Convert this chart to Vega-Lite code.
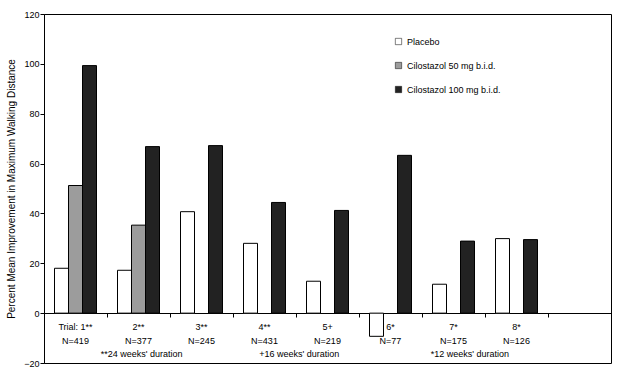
{
  "$schema": "https://vega.github.io/schema/vega-lite/v6.json",
  "width": 567,
  "height": 349,
  "autosize": "none",
  "padding": {"left": 44, "top": 14, "right": 14, "bottom": 14},
  "background": "white",
  "datasets": {
    "bars": [
      {"trial": "1", "treatment": "Placebo", "value": 18},
      {"trial": "1", "treatment": "Cilostazol 50 mg b.i.d.", "value": 51.2},
      {"trial": "1", "treatment": "Cilostazol 100 mg b.i.d.", "value": 99.3},
      {"trial": "2", "treatment": "Placebo", "value": 17.2},
      {"trial": "2", "treatment": "Cilostazol 50 mg b.i.d.", "value": 35.3},
      {"trial": "2", "treatment": "Cilostazol 100 mg b.i.d.", "value": 66.8},
      {"trial": "3", "treatment": "Placebo", "value": 40.7},
      {"trial": "3", "treatment": "Cilostazol 100 mg b.i.d.", "value": 67.2},
      {"trial": "4", "treatment": "Placebo", "value": 28},
      {"trial": "4", "treatment": "Cilostazol 100 mg b.i.d.", "value": 44.4},
      {"trial": "5", "treatment": "Placebo", "value": 12.8},
      {"trial": "5", "treatment": "Cilostazol 100 mg b.i.d.", "value": 41.2},
      {"trial": "6", "treatment": "Placebo", "value": -9.3},
      {"trial": "6", "treatment": "Cilostazol 100 mg b.i.d.", "value": 63.3},
      {"trial": "7", "treatment": "Placebo", "value": 11.6},
      {"trial": "7", "treatment": "Cilostazol 100 mg b.i.d.", "value": 28.9},
      {"trial": "8", "treatment": "Placebo", "value": 29.9},
      {"trial": "8", "treatment": "Cilostazol 100 mg b.i.d.", "value": 29.5}
    ],
    "labels": [
      {"trial": "1", "label": "Trial: 1**", "n": "N=419"},
      {"trial": "2", "label": "2**", "n": "N=377"},
      {"trial": "3", "label": "3**", "n": "N=245"},
      {"trial": "4", "label": "4**", "n": "N=431"},
      {"trial": "5", "label": "5+", "n": "N=219"},
      {"trial": "6", "label": "6*", "n": "N=77"},
      {"trial": "7", "label": "7*", "n": "N=175"},
      {"trial": "8", "label": "8*", "n": "N=126"}
    ]
  },
  "encoding": {
    "x": {
      "field": "trial",
      "type": "nominal",
      "scale": {"domain": ["1", "2", "3", "4", "5", "6", "7", "8", "9"], "paddingInner": 0, "paddingOuter": 0},
      "axis": {"title": null}
    }
  },
  "layer": [
    {
      "data": {"name": "bars"},
      "mark": {"type": "bar", "stroke": "black", "strokeWidth": 1},
      "encoding": {
        "xOffset": {
          "field": "treatment",
          "type": "nominal",
          "scale": {"domain": ["Placebo", "Cilostazol 50 mg b.i.d.", "Cilostazol 100 mg b.i.d."], "paddingInner": 0, "paddingOuter": 0.75}
        },
        "y": {
          "field": "value",
          "type": "quantitative",
          "scale": {"domain": [-20, 120], "nice": false, "zero": false},
          "axis": {"title": "Percent Mean Improvement in Maximum Walking Distance", "values": [-20, 0, 20, 40, 60, 80, 100, 120]}
        },
        "fill": {
          "field": "treatment",
          "type": "nominal",
          "scale": {"domain": ["Placebo", "Cilostazol 50 mg b.i.d.", "Cilostazol 100 mg b.i.d."], "range": ["#ffffff", "#9c9c9c", "#222222"]},
          "legend": {
            "title": null,
            "orient": "none",
            "legendX": 350,
            "legendY": 23,
            "direction": "vertical",
            "symbolType": "square",
            "symbolSize": 40,
            "symbolStrokeColor": "black",
            "symbolStrokeWidth": 0.5,
            "labelFontSize": 9,
            "labelFont": "Liberation Sans",
            "labelColor": "black",
            "labelOffset": 4,
            "rowPadding": 14
          }
        }
      }
    },
    {
      "data": {"name": "labels"},
      "mark": {"type": "text", "font": "Liberation Sans", "fontSize": 9, "color": "black"},
      "encoding": {
        "y": {"datum": -5.4, "type": "quantitative"},
        "text": {"field": "label"}
      }
    },
    {
      "data": {"name": "labels"},
      "mark": {"type": "text", "font": "Liberation Sans", "fontSize": 9, "color": "black"},
      "encoding": {
        "y": {"datum": -11.2, "type": "quantitative"},
        "text": {"field": "n"}
      }
    },
    {
      "data": {"values": [{"trial": "2", "note": "**24 weeks' duration"}]},
      "mark": {"type": "text", "font": "Liberation Sans", "fontSize": 9, "color": "black"},
      "encoding": {
        "x": {"field": "trial", "type": "nominal", "bandPosition": 0.55, "axis": {"title": null}},
        "y": {"datum": -16.4, "type": "quantitative"},
        "text": {"field": "note"}
      }
    },
    {
      "data": {"values": [{"trial": "5", "note": "+16 weeks' duration"}]},
      "mark": {"type": "text", "font": "Liberation Sans", "fontSize": 9, "color": "black"},
      "encoding": {
        "x": {"field": "trial", "type": "nominal", "bandPosition": 0.05, "axis": {"title": null}},
        "y": {"datum": -16.4, "type": "quantitative"},
        "text": {"field": "note"}
      }
    },
    {
      "data": {"values": [{"trial": "7", "note": "*12 weeks' duration"}]},
      "mark": {"type": "text", "font": "Liberation Sans", "fontSize": 9, "color": "black"},
      "encoding": {
        "x": {"field": "trial", "type": "nominal", "bandPosition": 0.76, "axis": {"title": null}},
        "y": {"datum": -16.4, "type": "quantitative"},
        "text": {"field": "note"}
      }
    }
  ],
  "config": {
    "view": {"stroke": "black", "strokeWidth": 1},
    "axisX": {
      "labels": false,
      "grid": false,
      "offset": -50,
      "bandPosition": 0,
      "tickSize": 4,
      "tickColor": "black",
      "domainColor": "black",
      "domainWidth": 1,
      "tickWidth": 1
    },
    "axisY": {
      "grid": false,
      "tickSize": 4,
      "tickColor": "black",
      "domainColor": "black",
      "labelFont": "Liberation Sans",
      "labelFontSize": 9,
      "labelColor": "black",
      "labelPadding": 1,
      "titleFont": "Liberation Sans",
      "titleFontSize": 10,
      "titleFontWeight": "normal",
      "titleColor": "black",
      "titlePadding": 7
    }
  }
}
